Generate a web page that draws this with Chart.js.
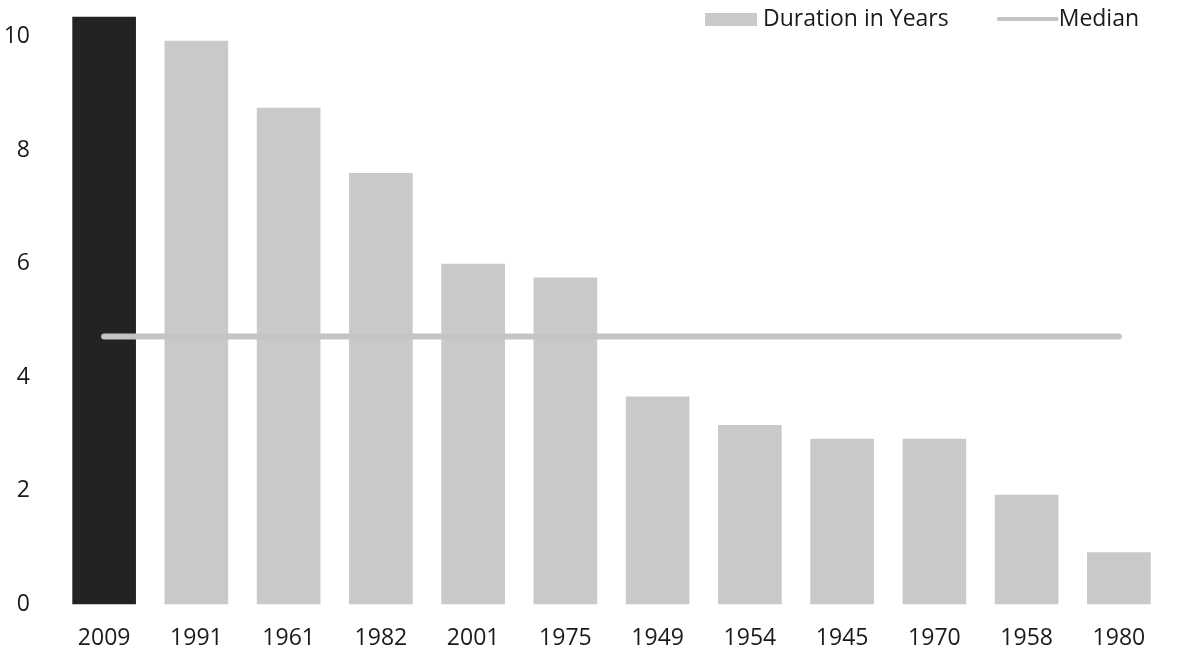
<!DOCTYPE html>
<html>
<head>
<meta charset="utf-8">
<script src="https://cdn.jsdelivr.net/npm/chart.js@4"></script>
<style>
    body { margin: 0; background: #fff; }
    #wrap { width: 1183px; height: 652px; }
</style>
</head>
<body>
<div id="wrap"><canvas id="chart" width="1183" height="652"></canvas></div>
<script>
// Chart data
const years = ['2009', '1991', '1961', '1982', '2001', '1975', '1949', '1954', '1945', '1970', '1958', '1980'];
const durations = [10.35, 9.93, 8.75, 7.6, 6.0, 5.76, 3.66, 3.16, 2.92, 2.92, 1.93, 0.92];
const median = [4.72, 4.72, 4.72, 4.72, 4.72, 4.72, 4.72, 4.72, 4.72, 4.72, 4.72, 4.72];
const yTicks = [0, 2, 4, 6, 8, 10];

const barColors = years.map(function (y, i) {
    return i === 0 ? '#232323' : '#c9c9c9';
});

const font = { family: '"Open Sans", "Noto Sans", sans-serif', size: 23 };
const fontStr = '23px "Open Sans", "Noto Sans", sans-serif';

// legend drawn over the top-right corner of the plot, like the original
const cornerLegend = {
    id: 'cornerLegend',
    afterDraw: function (chart) {
        const ctx = chart.ctx;
        const bars = chart.data.datasets[1];
        const line = chart.data.datasets[0];
        const y = 19;
        ctx.save();
        ctx.font = fontStr;
        ctx.textBaseline = 'middle';

        // bar item
        let x = 705;
        ctx.fillStyle = '#c9c9c9';
        ctx.fillRect(x, y - 6, 52, 13);
        ctx.fillStyle = '#1a1a1a';
        ctx.fillText(bars.label, x + 58, y);

        // line item
        x = x + 58 + ctx.measureText(bars.label).width + 50;
        ctx.strokeStyle = line.borderColor;
        ctx.lineWidth = 4;
        ctx.lineCap = 'round';
        ctx.beginPath();
        ctx.moveTo(x, y);
        ctx.lineTo(x + 58, y);
        ctx.stroke();
        ctx.fillText(line.label, x + 60, y);
        ctx.restore();
    }
};

new Chart(document.getElementById('chart'), {
    type: 'bar',
    data: {
        labels: years,
        datasets: [{
            type: 'line',
            label: 'Median',
            data: median,
            borderColor: '#c4c4c4',
            backgroundColor: '#c4c4c4',
            borderWidth: 6,
            borderCapStyle: 'round',
            pointRadius: 0,
            order: 0
        }, {
            label: 'Duration in Years',
            data: durations,
            backgroundColor: barColors,
            borderWidth: 0,
            barPercentage: 0.69,
            categoryPercentage: 1,
            order: 1
        }]
    },
    plugins: [cornerLegend],
    options: {
        responsive: false,
        animation: false,
        layout: { padding: { top: 14, right: 18, bottom: -20, left: 4 } },
        plugins: {
            tooltip: { enabled: false },
            legend: { display: false }
        },
        scales: {
            x: {
                grid: { display: false, drawTicks: false },
                border: { display: false },
                ticks: { font: font, color: '#1a1a1a', padding: 20 }
            },
            y: {
                min: 0,
                max: 10.4,
                grid: { display: false, drawTicks: false },
                border: { display: false },
                afterBuildTicks: function (axis) {
                    axis.ticks = yTicks.map(function (v) { return { value: v }; });
                },
                afterFit: function (axis) {
                    axis.width = 54;
                    axis.paddingTop = 0;
                    axis.paddingBottom = 0;
                },
                ticks: { font: font, color: '#1a1a1a', padding: 28 }
            }
        }
    }
});
</script>
</body>
</html>
